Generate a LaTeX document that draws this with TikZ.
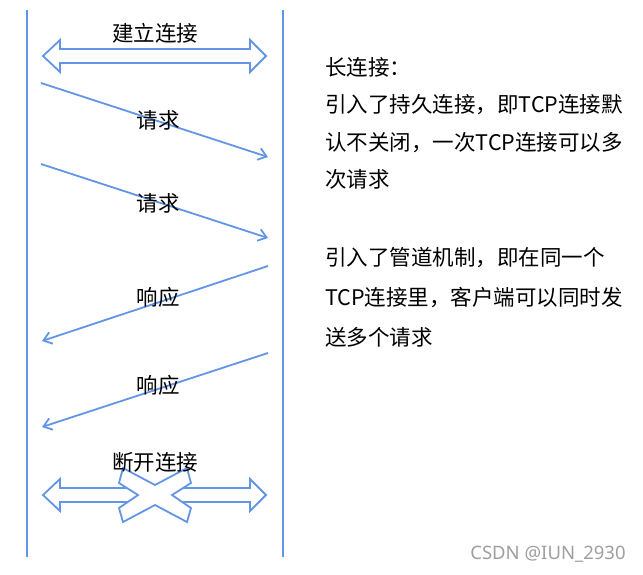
\documentclass[tikz,border=0pt]{standalone}
\usepackage{fontspec}
\newfontfamily\cjk{Noto Sans CJK SC}
\newfontfamily\wmfont{Noto Sans}
\usetikzlibrary{arrows.meta}
\definecolor{lineblue}{RGB}{99,149,230}

\begin{document}
\begin{tikzpicture}[x=1pt,y=-1pt,font=\cjk\fontsize{21.5}{26}\selectfont,
  msg/.style={lineblue,line width=1.8pt,-{Straight Barb[length=8pt,width=12pt,line width=1.8pt]}},
  lane/.style={lineblue,line width=2pt},
  outline/.style={draw=lineblue,line width=1.8pt,fill=white},
  lbl/.style={inner sep=0pt}]
  \useasboundingbox (0,0) rectangle (643,575);
  % client and server lines
  \coordinate (cliTop) at (27,10);   \coordinate (cliBot) at (27,557);
  \coordinate (srvTop) at (283,10);  \coordinate (srvBot) at (283,557);
  \draw[lane] (cliTop) -- (cliBot);
  \draw[lane] (srvTop) -- (srvBot);
  % open connection
  \draw[outline] (43,56) -- (60,40) -- (60,49) -- (250,49) -- (250,40) -- (266,56)
     -- (250,72) -- (250,63) -- (60,63) -- (60,72) -- cycle;
  \node[lbl] (open) at (155,33) {建立连接};
  % requests
  \coordinate (req1s) at (41,83);   \coordinate (req1e) at (268,157);
  \coordinate (req2s) at (41,164);  \coordinate (req2e) at (268,238);
  \draw[msg] (req1s) -- (req1e);
  \draw[msg] (req2s) -- (req2e);
  \node[lbl] (req1) at (158,120) {请求};
  \node[lbl] (req2) at (158,203) {请求};
  % responses
  \coordinate (resp1s) at (268,266); \coordinate (resp1e) at (42,341);
  \coordinate (resp2s) at (268,353); \coordinate (resp2e) at (42,427);
  \draw[msg] (resp1s) -- (resp1e);
  \draw[msg] (resp2s) -- (resp2e);
  \node[lbl] (resp1) at (158,297) {响应};
  \node[lbl] (resp2) at (158,385) {响应};
  % close connection
  \draw[outline] (43,495) -- (60,479) -- (60,488) -- (250,488) -- (250,479) -- (266,495)
     -- (250,511) -- (250,502) -- (60,502) -- (60,511) -- cycle;
  \draw[outline] (123,468) -- (155,485) -- (187,468) -- (191,483) -- (172,495) -- (191,508)
     -- (187,522) -- (155,505) -- (123,522) -- (119,508) -- (138,495) -- (119,483) -- cycle;
  \node[lbl] (close) at (155,462) {断开连接};
  % notes
  \node[lbl,anchor=north west,align=left,font=\cjk\fontsize{21.5}{37.5}\selectfont] (note1) at (325,57)
    {长连接：\\引入了持久连接，即TCP连接默\\认不关闭，一次TCP连接可以多\\次请求};
  \node[lbl,anchor=north west,align=left,font=\cjk\fontsize{21.5}{40}\selectfont] (note2) at (325,247)
    {引入了管道机制，即在同一个\\TCP连接里，客户端可以同时发\\送多个请求};
  \node[lbl,text=black!38,font=\wmfont\fontsize{18.5}{20}\selectfont] (mark) at (548,554) {CSDN @IUN\_2930};
\end{tikzpicture}
\end{document}
